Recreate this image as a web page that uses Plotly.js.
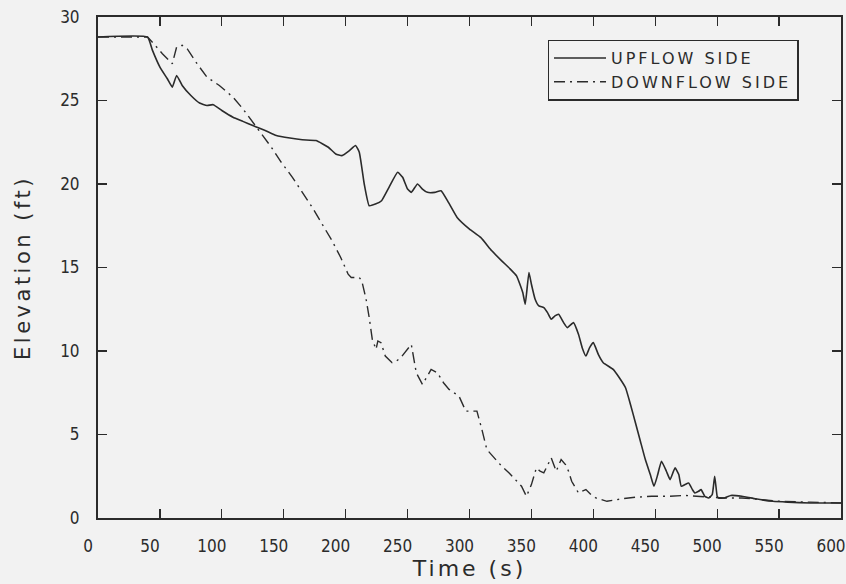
<!DOCTYPE html>
<html>
<head>
<meta charset="utf-8">
<script src="https://cdn.plot.ly/plotly-3.0.1.min.js"></script>
<style>
  html, body { margin: 0; padding: 0; background: #f2f2f2; }
  #chart { width: 846px; height: 584px; }
  .xtitle { letter-spacing: 3px; }
  .ytitle { letter-spacing: 3.5px; }
  .legendtext { letter-spacing: 3px; }
</style>
</head>
<body>
<div id="chart"></div>
<script>
// Upflow side (solid)
const upT = [0, 40, 44, 50, 56, 60, 63.5, 68, 75, 82, 88, 93, 100, 109, 117, 125, 135, 144, 155, 165, 176, 186, 192, 197, 203, 208, 211, 215, 219, 224, 229, 235, 242, 246, 250, 253, 258, 262, 266, 272, 277, 283, 290, 300, 309, 318, 326, 333, 338, 343, 345, 348, 350, 353, 356, 360, 363, 366, 369, 372, 376, 379, 384, 388, 391, 394, 397, 400, 404, 408, 416, 421, 426, 430, 434, 438, 442, 446, 449, 452, 455, 459, 462, 466, 469, 471, 474, 477, 480, 482, 485, 487, 490, 493, 496, 498, 500, 501, 506, 511, 520, 531, 545, 557, 575, 600];
const upY = [28.8, 28.8, 28.0, 27.0, 26.3, 25.8, 26.5, 25.9, 25.3, 24.85, 24.7, 24.75, 24.4, 24.0, 23.75, 23.5, 23.2, 22.9, 22.75, 22.65, 22.6, 22.2, 21.8, 21.7, 22.0, 22.3, 21.9, 20.0, 18.7, 18.8, 19.0, 19.8, 20.7, 20.4, 19.7, 19.5, 20.0, 19.7, 19.5, 19.5, 19.6, 18.9, 18.0, 17.3, 16.8, 16.0, 15.4, 14.9, 14.5, 13.5, 12.8, 14.7, 14.0, 13.1, 12.7, 12.6, 12.3, 11.9, 12.1, 12.2, 11.7, 11.4, 11.7, 11.0, 10.2, 9.7, 10.2, 10.5, 9.8, 9.3, 8.9, 8.4, 7.8, 6.8, 5.7, 4.6, 3.5, 2.6, 1.9, 2.6, 3.4, 2.8, 2.3, 3.0, 2.6, 1.9, 2.0, 2.1, 1.7, 1.5, 1.6, 1.7, 1.3, 1.2, 1.4, 2.5, 1.3, 1.2, 1.2, 1.35, 1.3, 1.15, 1.0, 0.95, 0.9, 0.9];

// Downflow side (dash-dot)
const downT = [0, 40, 45, 52, 60, 63.5, 68, 72, 80, 88, 98, 109, 117, 125, 132, 140, 148, 157, 165, 173, 181, 189, 196, 202, 204.5, 211, 213, 216.5, 219, 221.5, 224.5, 226, 228.5, 232, 237.5, 241, 244.5, 250, 253, 257, 262, 266, 269, 274, 279, 283.5, 291.5, 297, 302, 306, 310, 314, 320, 326, 332, 337, 342, 346, 350, 354, 357, 360, 363, 366, 370, 374, 377.5, 380, 382.5, 388, 394, 398, 402, 411, 423, 435, 447, 460, 474, 485, 495, 505, 520, 535, 550, 575, 600];
const downY = [28.8, 28.8, 28.4, 27.8, 27.2, 28.2, 28.3, 28.1, 27.2, 26.4, 25.9, 25.2, 24.5, 23.7, 23.0, 22.2, 21.3, 20.4, 19.5, 18.6, 17.6, 16.6, 15.6, 14.6, 14.4, 14.4, 14.2, 13.1, 12.0, 10.7, 10.1, 10.6, 10.5, 9.7, 9.3, 9.4, 9.6, 10.1, 10.4, 8.7, 8.0, 8.5, 8.9, 8.7, 8.1, 7.7, 7.3, 6.4, 6.4, 6.4, 5.3, 4.1, 3.6, 3.1, 2.7, 2.3, 1.9, 1.3, 2.0, 3.0, 2.8, 2.7, 3.2, 3.6, 2.8, 3.5, 3.2, 2.8, 2.2, 1.5, 1.7, 1.4, 1.2, 1.0, 1.15, 1.25, 1.3, 1.3, 1.35, 1.3, 1.25, 1.2, 1.2, 1.1, 1.0, 0.95, 0.9];

const seriesNames = ["UPFLOW SIDE", "DOWNFLOW SIDE"];
const xTicks = [0, 50, 100, 150, 200, 250, 300, 350, 400, 450, 500, 550, 600];
const yTicks = [0, 5, 10, 15, 20, 25, 30];

const ink = "#2b2b2b";
const tickFamily = "DejaVu Sans Condensed, Liberation Sans Narrow, DejaVu Sans, sans-serif";
const textFamily = "DejaVu Sans, sans-serif";

const traces = [
  { x: upT, y: upY, name: seriesNames[0], mode: "lines", type: "scatter",
    line: { color: ink, width: 1.6, shape: "spline", smoothing: 0.4 } },
  { x: downT, y: downY, name: seriesNames[1], mode: "lines", type: "scatter",
    line: { color: ink, width: 1.4, dash: "11px,5px,2px,5px" } }
];

const axisCommon = {
  showgrid: false, zeroline: false, showline: true, linecolor: ink, linewidth: 2,
  mirror: "ticks", ticks: "inside", tickcolor: ink, tickwidth: 1.2, ticklen: 9,
  ticklabeloverflow: "allow",
  tickfont: { family: tickFamily, size: 17, color: ink }
};

const layout = {
  width: 846, height: 584,
  paper_bgcolor: "#f2f2f2", plot_bgcolor: "#f2f2f2",
  margin: { l: 98, r: 5, t: 17, b: 66 },
  showlegend: true,
  legend: {
    x: 0.605, y: 0.955, xanchor: "left", yanchor: "top",
    bgcolor: "#f2f2f2", bordercolor: ink, borderwidth: 1.5,
    itemwidth: 52,
    font: { family: textFamily, size: 16, color: ink },
    tracegroupgap: 0
  },
  xaxis: Object.assign({}, axisCommon, {
    range: [0, 600], tickvals: xTicks, ticktext: xTicks.map(String),
    ticklabelstandoff: 12, ticklabelshift: -10,
    title: { text: "Time (s)", font: { family: textFamily, size: 22, color: ink }, standoff: 0 }
  }),
  yaxis: Object.assign({}, axisCommon, {
    range: [0, 30], tickvals: yTicks, ticktext: yTicks.map(String),
    ticklabelstandoff: 13,
    title: { text: "Elevation (ft)", font: { family: textFamily, size: 21, color: ink }, standoff: 24 }
  })
};

Plotly.newPlot("chart", traces, layout, { displayModeBar: false, staticPlot: true });
</script>
</body>
</html>
